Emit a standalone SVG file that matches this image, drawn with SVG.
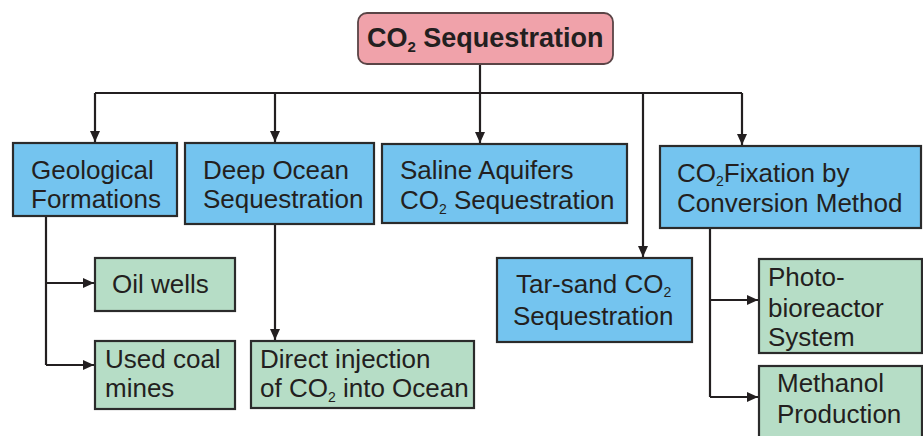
<svg xmlns="http://www.w3.org/2000/svg" width="923" height="436" viewBox="0 0 923 436">
<defs>
<marker id="arr" markerUnits="userSpaceOnUse" markerWidth="12" markerHeight="12" refX="11" refY="5" orient="auto">
<path d="M0,0 L11,5 L0,10 z" fill="#231f20"/>
</marker>
<style>
.t{font-family:"Liberation Sans",Arial,sans-serif;font-size:26px;fill:#231f20}
.b{font-weight:bold;font-size:27px}
.blue{fill:#74c4ef;stroke:#2b2b2b;stroke-width:2.2}
.green{fill:#b6ddc6;stroke:#2b2b2b;stroke-width:2.2}
.pink{fill:#f0a2aa;stroke:#5a4446;stroke-width:1.8}
.c{fill:none;stroke:#231f20;stroke-width:2.2}
.a{marker-end:url(#arr)}
</style>
</defs>
<rect width="923" height="436" fill="#ffffff"/>
<g id="connectors">
<path class="c a" d="M480,64 V143"/>
<path class="c" d="M95,93 H742"/>
<path class="c a" d="M95,93 V142"/>
<path class="c a" d="M275,93 V142"/>
<path class="c a" d="M742,93 V145"/>
<path class="c a" d="M643,93 V257"/>
<path class="c" d="M46,216 V365"/>
<path class="c a" d="M46,283 H94"/>
<path class="c a" d="M46,365 H94"/>
<path class="c a" d="M275,224 V340"/>
<path class="c" d="M710,228 V397"/>
<path class="c a" d="M710,300 H758"/>
<path class="c a" d="M710,397 H758"/>
</g>
<g id="root">
<rect class="pink" x="358" y="13" width="255" height="51" rx="9"/>
<text class="t b" x="367" y="47">CO<tspan font-size="15" dy="5">2</tspan><tspan dy="-5"> Sequestration</tspan></text>
</g>
<g id="geological">
<rect class="blue" x="13" y="143" width="164" height="73"/>
<text class="t" x="31" y="179">Geological</text>
<text class="t" x="31" y="208">Formations</text>
</g>
<g id="deep-ocean">
<rect class="blue" x="185" y="143" width="189" height="81"/>
<text class="t" x="203" y="179">Deep Ocean</text>
<text class="t" x="203" y="208">Sequestration</text>
</g>
<g id="saline">
<rect class="blue" x="382" y="144" width="245" height="79"/>
<text class="t" x="400" y="179">Saline Aquifers</text>
<text class="t" x="400" y="209">CO<tspan font-size="14" dy="5">2</tspan><tspan dy="-5"> Sequestration</tspan></text>
</g>
<g id="fixation">
<rect class="blue" x="660" y="146" width="261" height="82"/>
<text class="t" x="677" y="182">CO<tspan font-size="14" dy="4">2</tspan><tspan dy="-4">Fixation by</tspan></text>
<text class="t" x="677" y="212">Conversion Method</text>
</g>
<g id="tar-sand">
<rect class="blue" x="497" y="258" width="195" height="84"/>
<text class="t" x="516" y="293">Tar-sand CO<tspan font-size="14" dy="4">2</tspan></text>
<text class="t" x="513" y="325">Sequestration</text>
</g>
<g id="oil-wells">
<rect class="green" x="95" y="258" width="140" height="53"/>
<text class="t" x="112" y="293">Oil wells</text>
</g>
<g id="coal-mines">
<rect class="green" x="95" y="341" width="140" height="68"/>
<text class="t" x="105" y="368">Used coal</text>
<text class="t" x="105" y="397">mines</text>
</g>
<g id="direct-injection">
<rect class="green" x="251" y="341" width="223" height="67"/>
<text class="t" x="260" y="368">Direct injection</text>
<text class="t" x="260" y="397">of CO<tspan font-size="14" dy="5">2</tspan><tspan dy="-5"> into Ocean</tspan></text>
</g>
<g id="photobioreactor">
<rect class="green" x="759" y="259" width="163" height="94"/>
<text class="t" x="768" y="286">Photo-</text>
<text class="t" x="768" y="317">bioreactor</text>
<text class="t" x="768" y="346">System</text>
</g>
<g id="methanol">
<rect class="green" x="759" y="366" width="163" height="80"/>
<text class="t" x="777" y="392">Methanol</text>
<text class="t" x="777" y="423">Production</text>
</g>
</svg>
